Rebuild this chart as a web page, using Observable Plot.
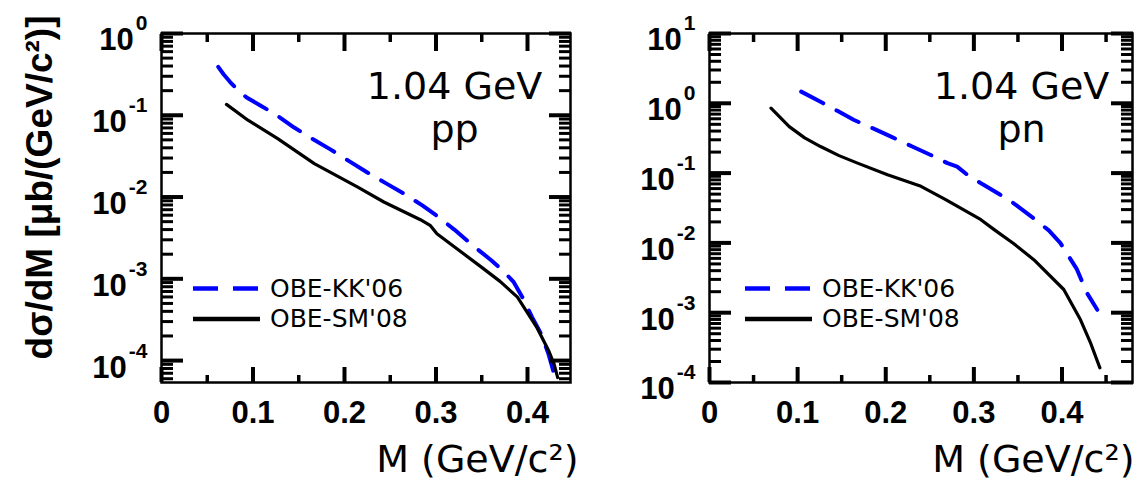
<!DOCTYPE html>
<html>
<head>
<meta charset="utf-8">
<script src="https://cdn.jsdelivr.net/npm/d3@7"></script>
<script src="https://cdn.jsdelivr.net/npm/@observablehq/plot@0.6"></script>
<style>
  html, body { margin: 0; padding: 0; background: #fff; }
  #figure { position: relative; width: 1137px; height: 481px; overflow: hidden; }
  #figure > svg { position: absolute; top: 0; }
</style>
</head>
<body>
<div id="figure"></div>
<script>
// Dielectron mass spectra dσ/dM at 1.04 GeV, two OBE model calculations.

// pp channel
const ppMassKK  = [0.062, 0.068, 0.075, 0.083, 0.093, 0.108, 0.125, 0.145, 0.165, 0.185, 0.205, 0.225, 0.245, 0.265, 0.285, 0.300, 0.320, 0.340, 0.360, 0.375, 0.385, 0.395, 0.405, 0.415, 0.423, 0.431];
const ppSigmaKK = [0.39, 0.315, 0.255, 0.205, 0.165, 0.132, 0.102, 0.0708, 0.0513, 0.038, 0.0275, 0.020, 0.0148, 0.011, 0.0079, 0.0060, 0.0040, 0.00257, 0.0017, 0.0012, 0.00091, 0.00058, 0.00034, 0.00021, 0.00012, 0.000058];
const ppMassSM  = [0.071, 0.0945, 0.127, 0.167, 0.214, 0.243, 0.283, 0.294, 0.301, 0.350, 0.370, 0.389, 0.410, 0.423, 0.429, 0.433];
const ppSigmaSM = [0.136, 0.087, 0.0519, 0.0256, 0.0133, 0.0087, 0.00528, 0.00447, 0.00356, 0.00138, 0.00093, 0.000597, 0.000257, 0.000133, 0.000091, 0.000062];

// pn channel
const pnMassKK  = [0.104, 0.126, 0.145, 0.164, 0.185, 0.206, 0.230, 0.251, 0.270, 0.281, 0.2925, 0.310, 0.330, 0.345, 0.368, 0.385, 0.398, 0.417, 0.428, 0.440];
const pnSigmaKK = [1.47, 1.05, 0.78, 0.577, 0.44, 0.333, 0.24, 0.182, 0.139, 0.124, 0.0946, 0.069, 0.049, 0.037, 0.0224, 0.0151, 0.010, 0.00417, 0.00195, 0.0011];
const pnMassSM  = [0.0698, 0.0905, 0.108, 0.126, 0.147, 0.168, 0.202, 0.240, 0.268, 0.308, 0.323, 0.345, 0.368, 0.402, 0.421, 0.432, 0.443];
const pnSigmaSM = [0.85, 0.463, 0.32, 0.24, 0.178, 0.139, 0.0946, 0.0646, 0.0417, 0.0215, 0.0155, 0.0098, 0.00575, 0.00215, 0.00079, 0.00038, 0.000162];

// models
const modelNames  = ["OBE-KK'06", "OBE-SM'08"];
const modelColors = ["#0000ff", "#000000"];
const modelDashes = ["25,15", null];
const modelWidths = [4, 3.2];

// axis ticks and texts
const massTicks   = [0, 0.1, 0.2, 0.3, 0.4];
const massMinor   = [0.05, 0.15, 0.25, 0.35, 0.45];
const ppDecades   = [1e0, 1e-1, 1e-2, 1e-3, 1e-4];
const pnDecades   = [1e1, 1e0, 1e-1, 1e-2, 1e-3, 1e-4];
const beamEnergy  = "1.04 GeV";
const reactions   = ["pp", "pn"];
const xTitle      = "M (GeV/c²)";
const yTitle      = "dσ/dM [μb/(GeV/c²)]";

const SANS = "'DejaVu Sans', Verdana, sans-serif";
const BOLD = "'Liberation Sans', Arial, sans-serif";

function table(mass, sigma, model) {
  return mass.map((m, i) => ({mass: m, sigma: sigma[i], model}));
}

function minorDecades(domain) {
  const [lo, hi] = domain;
  const out = [];
  for (let e = Math.floor(Math.log10(lo)); e <= Math.ceil(Math.log10(hi)); e++)
    for (let k = 2; k <= 9; k++) {
      const v = k * Math.pow(10, e);
      if (v > lo && v < hi) out.push(v);
    }
  return out;
}

function panel({width, marginLeft, marginRight, xDomain, yDomain, decades, series, reaction, annDx, titleDx, withYTitle, legendX}) {
  const xMinor = massMinor.filter(v => v < xDomain[1]);
  const yMinor = minorDecades(yDomain);
  const tick = {fill: "none", label: null};
  const marks = [
    ...series.map((s, i) => Plot.line(s, {
      x: "mass", y: "sigma",
      stroke: modelColors[i], strokeWidth: modelWidths[i],
      strokeDasharray: modelDashes[i], strokeLinejoin: "round"
    })),
    Plot.frame({strokeWidth: 2.5}),
    // inward ticks on all four sides
    Plot.axisX(massTicks, {anchor: "bottom", tickSize: -15, strokeWidth: 4, ...tick}),
    Plot.axisX(massTicks, {anchor: "top", tickSize: -17, strokeWidth: 4, ...tick}),
    Plot.axisX(xMinor, {anchor: "bottom", tickSize: -7, strokeWidth: 3.5, ...tick}),
    Plot.axisX(xMinor, {anchor: "top", tickSize: -8, strokeWidth: 3.5, ...tick}),
    Plot.axisY(decades, {anchor: "left", tickSize: -22, strokeWidth: 4, ...tick}),
    Plot.axisY(decades, {anchor: "right", tickSize: -22, strokeWidth: 4, ...tick}),
    Plot.axisY(yMinor, {anchor: "left", tickSize: -12, strokeWidth: 3, ...tick}),
    Plot.axisY(yMinor, {anchor: "right", tickSize: -12, strokeWidth: 3, ...tick}),
    // tick labels
    Plot.axisX(massTicks, {
      anchor: "bottom", tickSize: 0, tickPadding: 18, label: null,
      fontSize: 31, fontWeight: "bold", fontFamily: BOLD,
      tickFormat: d => d === 0 ? "0" : d.toFixed(1)
    }),
    Plot.axisY(decades, {
      anchor: "left", tickSize: 0, tickPadding: 14, label: null, dy: 7,
      fontSize: 31, fontWeight: "bold", fontFamily: BOLD,
      tickFormat: d => "10^" + Math.round(Math.log10(d))
    }),
    Plot.text([xTitle], {
      frameAnchor: "bottom-right", text: d => d, textAnchor: "end", lineAnchor: "middle",
      dx: titleDx, dy: 77, fontSize: 38, fontFamily: SANS
    }),
    Plot.text([`${beamEnergy}\n${reaction}`], {
      frameAnchor: "top-right", text: d => d, textAnchor: "middle", lineAnchor: "top",
      lineHeight: 1.13, dx: annDx, dy: 35, fontSize: 38, fontFamily: SANS
    })
  ];
  if (withYTitle) marks.push(Plot.text([yTitle], {
    frameAnchor: "left", text: d => d, rotate: -90, textAnchor: "middle", lineAnchor: "middle",
    dx: -121, dy: -20.5, fontSize: 37, fontWeight: "bold", fontFamily: BOLD
  }));

  const svg = Plot.plot({
    width, height: 481,
    marginTop: 33, marginBottom: 99, marginLeft, marginRight,
    style: {fontFamily: BOLD, background: "transparent", overflow: "visible", color: "#000"},
    x: {domain: xDomain},
    y: {type: "log", domain: yDomain},
    marks
  });

  // decade labels as 10 with a raised exponent
  d3.select(svg).selectAll('g[aria-label="y-axis tick label"] text').each(function () {
    const [base, exp] = this.textContent.split("^");
    const t = d3.select(this).text(null);
    t.append("tspan").text(base);
    t.append("tspan").attr("font-size", 21).attr("dx", 2).attr("dy", -20).text(exp);
  });

  // legend
  const lg = d3.select(svg).append("g").attr("aria-label", "legend").attr("text-anchor", "start");
  modelNames.forEach((name, i) => {
    const y = 288.5 + i * 30.5;
    lg.append("line")
      .attr("x1", legendX).attr("x2", legendX + 67).attr("y1", y).attr("y2", y)
      .attr("stroke", modelColors[i]).attr("stroke-width", 4.5)
      .attr("stroke-dasharray", modelDashes[i]);
    lg.append("text")
      .attr("x", legendX + 77).attr("y", y + 8.3)
      .attr("text-anchor", "start")
      .attr("font-family", SANS).attr("font-size", 25).attr("fill", "#000")
      .text(name);
  });
  return svg;
}

const fig = document.getElementById("figure");

const left = panel({
  width: 580, marginLeft: 161, marginRight: 10,
  xDomain: [0, 0.447], yDomain: [Math.pow(10, -4.268), 1], decades: ppDecades,
  series: [table(ppMassKK, ppSigmaKK, modelNames[0]), table(ppMassSM, ppSigmaSM, modelNames[1])],
  reaction: reactions[0], annDx: -116, titleDx: 8, withYTitle: true, legendX: 193
});
left.style.left = "0px";
fig.appendChild(left);

const right = panel({
  width: 557, marginLeft: 129, marginRight: 5,
  xDomain: [0, 0.48], yDomain: [1e-4, 10], decades: pnDecades,
  series: [table(pnMassKK, pnSigmaKK, modelNames[0]), table(pnMassSM, pnSigmaSM, modelNames[1])],
  reaction: reactions[1], annDx: -111, titleDx: 2, withYTitle: false, legendX: 165
});
right.style.left = "580px";
fig.appendChild(right);
</script>
</body>
</html>
